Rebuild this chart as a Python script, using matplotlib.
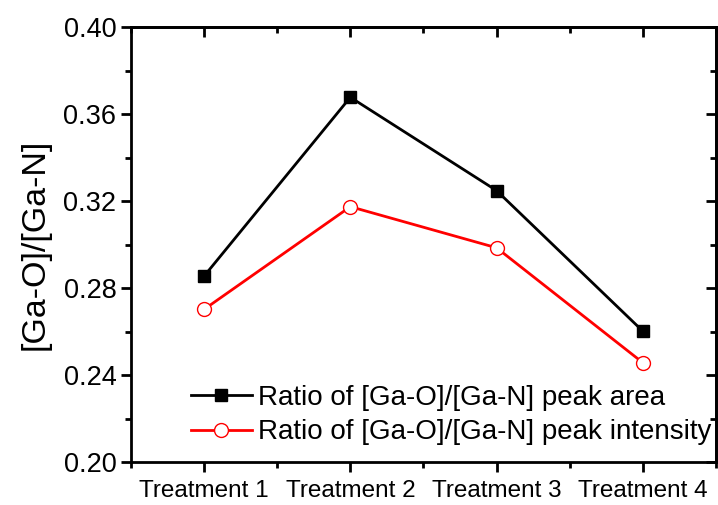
import matplotlib.pyplot as plt
from matplotlib.ticker import MultipleLocator

plt.rcParams['font.family'] = ['Liberation Sans', 'DejaVu Sans']

# dados
tratamentos = ['Treatment 1', 'Treatment 2', 'Treatment 3', 'Treatment 4']
razao_area = [0.2855, 0.3677, 0.3248, 0.2602]
razao_intensidade = [0.2702, 0.3174, 0.2985, 0.2457]

x = [1, 2, 3, 4]

fig = plt.figure(figsize=(7.18, 5.05), dpi=100)
ax = fig.add_axes([0.1825, 0.0851, 0.8145, 0.8614])

ax.plot(x, razao_area, color='black', lw=2, marker='s', ms=9,
        label='Ratio of [Ga-O]/[Ga-N] peak area')
ax.plot(x, razao_intensidade, color='red', lw=2, marker='o', ms=10,
        mfc='white', mec='red', mew=1,
        label='Ratio of [Ga-O]/[Ga-N] peak intensity')

ax.set_xlim(0.5, 4.5)
ax.set_ylim(0.20, 0.40)
ax.set_xticks(x)
ax.set_xticklabels(tratamentos, fontsize=17.5)
ax.xaxis.set_minor_locator(MultipleLocator(0.5))
ax.yaxis.set_major_locator(MultipleLocator(0.04))
ax.yaxis.set_minor_locator(MultipleLocator(0.02))
ax.set_yticklabels([f'{v:.2f}' for v in ax.get_yticks()], fontsize=19.5)
ax.set_ylabel('[Ga-O]/[Ga-N]', fontsize=24.5, labelpad=9)

for s in ax.spines.values():
    s.set_linewidth(2)
ax.tick_params(which='major', direction='out', length=7, width=2)
ax.tick_params(which='minor', direction='out', length=4, width=2)
ax.tick_params(axis='x', which='major', pad=6)

# ticks para dentro no topo e na direita
topo = ax.secondary_xaxis('top')
topo.set_xticks(x)
topo.xaxis.set_minor_locator(MultipleLocator(0.5))
topo.tick_params(which='both', direction='in', labeltop=False, width=2)
topo.tick_params(which='major', length=7)
topo.tick_params(which='minor', length=4)
topo.spines['top'].set_linewidth(2)

direita = ax.secondary_yaxis('right')
direita.yaxis.set_major_locator(MultipleLocator(0.04))
direita.yaxis.set_minor_locator(MultipleLocator(0.02))
direita.tick_params(which='both', direction='in', labelright=False, width=2)
direita.tick_params(which='major', length=7)
direita.tick_params(which='minor', length=4)
direita.spines['right'].set_linewidth(2)

ax.legend(loc='lower right', bbox_to_anchor=(1.02, 0.0), frameon=False,
          fontsize=20, handlelength=2.2, labelspacing=0.3, borderaxespad=0.2,
          handletextpad=0.2)

plt.savefig('out.png', dpi=100)
